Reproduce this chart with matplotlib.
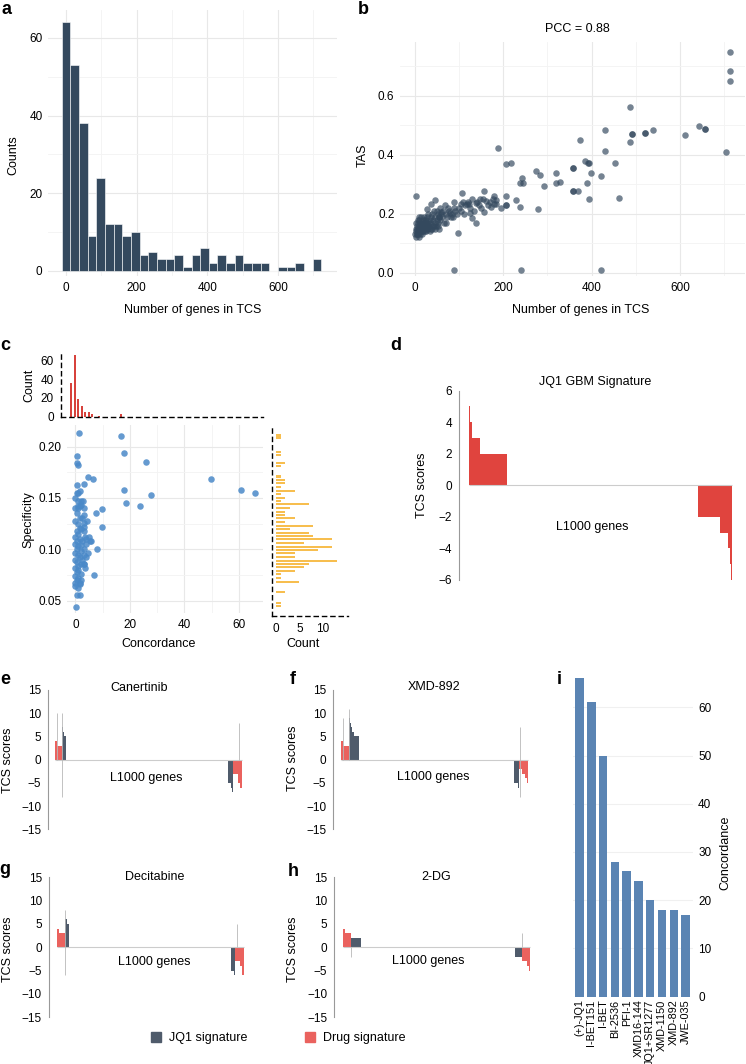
import matplotlib
matplotlib.use('Agg')
import matplotlib.pyplot as plt
from matplotlib.patches import Patch
from matplotlib.ticker import MultipleLocator, FormatStrFormatter
import numpy as np

plt.rcParams['font.family'] = ['Liberation Sans', 'DejaVu Sans']
plt.rcParams['font.size'] = 8.5

# ---------------- data ----------------
# a: number of genes in TCS, histogram
tcs_bin_centers = [0, 24.5, 49, 73.5, 98, 122.5, 147, 171.5, 196, 220.5, 245, 269.5, 294, 318.5, 343,
                   367.5, 392, 416.5, 441, 465.5, 490, 514.5, 539, 563.5, 588, 612.5, 637, 661.5, 686, 710.5]
tcs_counts = [64, 53, 38, 9, 24, 12, 12, 9, 10, 4, 5, 3, 3, 4, 1, 4, 6, 2, 4, 2, 4, 2, 2, 2, 0, 1, 1, 2, 0, 3]

# b: TAS vs number of genes in TCS
tas_points = [
    (712, 0.748), (712, 0.683), (712, 0.649), (703, 0.411), (657, 0.487), (657, 0.487), (642, 0.499),
    (611, 0.466), (538, 0.485), (520, 0.475), (520, 0.475), (492, 0.470), (492, 0.470), (488, 0.564),
    (486, 0.444), (461, 0.252), (452, 0.374), (431, 0.485), (431, 0.414), (421, 0.328), (421, 0.011),
    (398, 0.340), (394, 0.374), (394, 0.250), (390, 0.303), (385, 0.380), (392, 0.371), (373, 0.451),
    (370, 0.278), (359, 0.354), (359, 0.354), (359, 0.278), (359, 0.278), (329, 0.309), (319, 0.337),
    (319, 0.303), (293, 0.294), (284, 0.332), (275, 0.346), (279, 0.216), (246, 0.306), (242, 0.320),
    (239, 0.306), (239, 0.224), (240, 0.009), (230, 0.247), (217, 0.374), (207, 0.368), (207, 0.260),
    (207, 0.230), (207, 0.230), (196, 0.221), (189, 0.425), (180, 0.260), (183, 0.247), (185, 0.233),
    (180, 0.233), (173, 0.222), (162, 0.245), (158, 0.279), (158, 0.207), (147, 0.250), (138, 0.238),
    (138, 0.168), (130, 0.185), (126, 0.202), (124, 0.235), (118, 0.235), (108, 0.272), (104, 0.235),
    (98, 0.136), (90, 0.241), (90, 0.011), (87, 0.190), (80, 0.202), (72, 0.170), (68, 0.230),
    (60, 0.207), (56, 0.190), (45, 0.247), (38, 0.235), (29, 0.218), (4, 0.260),
    (2, 0.13), (3, 0.14), (4, 0.12), (5, 0.15), (5, 0.13), (6, 0.16), (7, 0.14), (8, 0.13), (8, 0.17),
    (9, 0.15), (10, 0.14), (10, 0.18), (11, 0.16), (12, 0.13), (12, 0.15), (13, 0.17), (14, 0.14),
    (15, 0.16), (15, 0.19), (16, 0.15), (17, 0.14), (18, 0.17), (19, 0.16), (20, 0.15), (20, 0.18),
    (21, 0.19), (22, 0.16), (23, 0.14), (24, 0.17), (25, 0.15), (26, 0.18), (27, 0.16), (28, 0.19),
    (29, 0.17), (30, 0.15), (31, 0.20), (32, 0.17), (33, 0.16), (35, 0.18), (36, 0.15), (37, 0.19),
    (38, 0.17), (40, 0.20), (41, 0.16), (42, 0.18), (43, 0.21), (45, 0.17), (46, 0.19), (48, 0.16),
    (50, 0.18), (50, 0.21), (52, 0.20), (54, 0.17), (55, 0.19), (57, 0.22), (58, 0.18), (60, 0.20),
    (62, 0.19), (65, 0.21), (66, 0.17), (70, 0.20), (74, 0.19), (76, 0.22), (78, 0.21), (82, 0.19),
    (85, 0.20), (88, 0.22), (92, 0.21), (95, 0.20), (100, 0.22), (105, 0.21), (110, 0.24), (112, 0.20),
    (115, 0.23), (120, 0.24), (125, 0.22), (130, 0.25), (135, 0.21), (140, 0.24), (145, 0.23),
    (150, 0.22), (155, 0.25), (165, 0.23), (170, 0.24), (178, 0.25),
    (3, 0.15), (4, 0.17), (6, 0.13), (7, 0.18), (9, 0.12), (11, 0.19), (13, 0.15), (14, 0.16),
    (16, 0.13), (18, 0.15), (19, 0.14), (21, 0.17), (23, 0.18), (26, 0.14), (28, 0.16), (34, 0.14),
    (39, 0.15), (44, 0.16), (47, 0.15), (53, 0.16), (56, 0.15),
]

# c: concordance vs specificity with marginal histograms
conc_spec_points = [
    (1.2, 0.213), (16.8, 0.210), (17.8, 0.194), (25.7, 0.185), (49.7, 0.168), (60.6, 0.158),
    (65.7, 0.155), (17.8, 0.158), (27.7, 0.153), (18.4, 0.145), (23.7, 0.142), (4.5, 0.170),
    (6.6, 0.168), (3.1, 0.164), (0.6, 0.191), (0.6, 0.184), (0.8, 0.182), (0.6, 0.163), (1.5, 0.157),
    (0.6, 0.155), (2.0, 0.147), (2.8, 0.147), (0.8, 0.142), (1.5, 0.142), (7.4, 0.135), (9.8, 0.139),
    (3.1, 0.133), (4.3, 0.128), (9.8, 0.122), (3.1, 0.122), (5.8, 0.108), (7.8, 0.100), (6.7, 0.075),
    (3.1, 0.086), (0.0, 0.067), (1.8, 0.067), (0.6, 0.055), (1.8, 0.055), (0.3, 0.044),
    (0, 0.14), (1, 0.14), (0.5, 0.135), (1.5, 0.13), (0, 0.128), (1, 0.125), (2, 0.12), (0.5, 0.118),
    (1, 0.115), (0, 0.112), (1.5, 0.11), (2.5, 0.108), (0, 0.105), (1, 0.103), (0.5, 0.1), (2, 0.098),
    (0, 0.096), (1, 0.094), (1.5, 0.092), (0, 0.09), (0.5, 0.088), (2, 0.086), (1, 0.084), (0, 0.082),
    (1, 0.08), (0.5, 0.078), (2, 0.076), (0, 0.074), (1, 0.072), (0.5, 0.07), (1.5, 0.066), (0, 0.064),
    (3, 0.118), (3.5, 0.112), (4, 0.105), (3, 0.1), (4.5, 0.096), (2.5, 0.09), (3, 0.086), (3.5, 0.082),
    (2.5, 0.13), (3, 0.126), (4, 0.11), (5, 0.112), (2, 0.143), (3, 0.14), (0, 0.15), (1, 0.147),
    (1.5, 0.121), (0.5, 0.108), (2, 0.104), (1, 0.062), (2, 0.07), (3, 0.094), (5.5, 0.108), (4, 0.092),
    (1, 0.155),
]
conc_hist_x = [-1.6, -0.3, 1.0, 2.3, 3.6, 4.9, 6.2, 8.8, 16.6]
conc_hist_n = [36, 66, 19, 11, 5, 5, 3, 1, 3]
spec_hist_y = [0.2114, 0.2088, 0.1945, 0.1919, 0.1844, 0.1815, 0.1708, 0.1675, 0.1643, 0.1604,
               0.1571, 0.1539, 0.1503, 0.1471, 0.1439, 0.1405, 0.1366, 0.1334, 0.1302, 0.1269,
               0.1230, 0.1195, 0.1162, 0.1130, 0.1097, 0.1058, 0.1025, 0.0993, 0.0961, 0.0922,
               0.0889, 0.0857, 0.0825, 0.0789, 0.0756, 0.0717, 0.0684, 0.0581, 0.0480, 0.0447]
spec_hist_n = [1, 1, 1, 1, 2, 1, 1, 2, 2, 1, 4, 1, 2, 1, 7, 3, 2, 2, 4, 2,
               8, 3, 7, 8, 12, 6, 12, 9, 4, 4, 13, 7, 6, 4, 1, 1, 5, 2, 1, 1]

# d: JQ1 GBM signature, runs of (score, number of genes)
n_genes = 978
gbm_scores = [5, 4, 3, 2, 0, -2, -3, -4, -5, -6]
gbm_counts = [4, 6, 31, 102, 709, 83, 29, 7, 5, 2]

# e-h: runs of (score, genes); up runs start at gene 0, down runs end at the last gene
can_drug_up = [(4, 9), (3, 30)]
can_jq1_up = [(7, 5), (6, 4), (5, 10)]
can_jq1_dn = [(-5, 18), (-6, 3), (-7, 3), (-8, 2)]
can_drug_dn = [(-3, 25), (-5, 12), (-6, 10)]
can_spikes = [(9, 0, 10), (38, -8, 10), (963, 0, 8)]

xmd_drug_up = [(4, 10), (3, 35)]
xmd_jq1_up = [(9, 4), (8, 4), (7, 4), (6, 14), (5, 23)]
xmd_jq1_dn = [(-5, 20), (-6, 5), (-7, 5)]
xmd_drug_dn = [(-2, 15), (-3, 12), (-4, 10), (-5, 6)]
xmd_spikes = [(14, 0, 9), (45, 0, 11), (940, -8, 7)]

dec_drug_up = [(4, 9), (3, 31)]
dec_jq1_up = [(6, 9), (5, 12)]
dec_jq1_dn = [(-5, 15), (-6, 4), (-7, 4)]
dec_drug_dn = [(-3, 25), (-4, 12), (-6, 10)]
dec_spikes = [(40, -6, 8), (938, 0, 5)]

dg_drug_up = [(4, 9), (3, 30)]
dg_jq1_up = [(2, 52)]
dg_jq1_dn = [(-2, 38)]
dg_drug_dn = [(-3, 25), (-4, 10), (-5, 5), (-6, 3)]
dg_spikes = [(39, -2, 0), (933, 0, 3)]

# i: top drugs by concordance
drug_names = ['(+)-JQ1', 'I-BET151', 'I-BET', 'BI-2536', 'PFI-1', 'XMD16-144',
              'JQ1+SR1277', 'XMD-1150', 'XMD-892', 'JWE-035']
drug_conc = [66, 61, 50, 28, 26, 24, 20, 18, 18, 17]

NAVY = '#34495e'
JQ1_COL = '#4f5b6b'
DRUG_COL = '#ea625e'

W, H = 746, 1064
fig = plt.figure(figsize=(W / 100, H / 100), dpi=100)


def add_ax(l, t, r, b):
    return fig.add_axes([l / W, 1 - b / H, (r - l) / W, (b - t) / H])


def ftext(x, y, s, **kw):
    kw.setdefault('ha', 'center')
    kw.setdefault('va', 'center')
    fig.text(x / W, 1 - y / H, s, **kw)


def gg_minimal(ax):
    for s in ax.spines.values():
        s.set_visible(False)
    ax.tick_params(which='both', length=0, pad=4)
    ax.grid(True, which='major', color='#e8e8e8', lw=0.8)
    ax.grid(True, which='minor', color='#f3f3f3', lw=0.6)
    ax.set_axisbelow(True)


# ---- a ----
ax = add_ax(48, 10, 337, 276)
ax.bar(tcs_bin_centers, tcs_counts, width=24.5, color=NAVY, edgecolor='white', lw=0.4)
ax.set_xlim(-51, 767)
ax.set_ylim(-1.3, 67.2)
ax.xaxis.set_major_locator(MultipleLocator(200))
ax.xaxis.set_minor_locator(MultipleLocator(100))
ax.yaxis.set_major_locator(MultipleLocator(20))
ax.yaxis.set_minor_locator(MultipleLocator(10))
gg_minimal(ax)
ftext(13, 155, 'Counts', rotation=90, fontsize=9)
ftext(193, 310, 'Number of genes in TCS', fontsize=9)

# ---- b ----
ax = add_ax(400, 42, 745, 276)
bx, by = zip(*tas_points)
ax.scatter(bx, by, s=22, color=NAVY, alpha=0.68, lw=0)
ax.set_xlim(-33, 747)
ax.set_ylim(-0.011, 0.783)
ax.xaxis.set_major_locator(MultipleLocator(200))
ax.xaxis.set_minor_locator(MultipleLocator(100))
ax.yaxis.set_major_locator(MultipleLocator(0.2))
ax.yaxis.set_minor_locator(MultipleLocator(0.1))
ax.yaxis.set_major_formatter(FormatStrFormatter('%.1f'))
gg_minimal(ax)
ftext(577, 29, 'PCC = 0.88', fontsize=9)
ftext(363, 155, 'TAS', rotation=90, fontsize=9)
ftext(581, 310, 'Number of genes in TCS', fontsize=9)

# ---- c ----
ax = add_ax(67, 425, 263, 613)
cx, cy = zip(*conc_spec_points)
ax.scatter(cx, cy, s=22, color='#4a89c8', alpha=0.85, lw=0)
ax.set_xlim(-3.1, 68.8)
ax.set_ylim(0.0379, 0.2211)
ax.xaxis.set_major_locator(MultipleLocator(20))
ax.xaxis.set_minor_locator(MultipleLocator(10))
ax.yaxis.set_major_locator(MultipleLocator(0.05))
ax.yaxis.set_minor_locator(MultipleLocator(0.025))
ax.yaxis.set_major_formatter(FormatStrFormatter('%.2f'))
gg_minimal(ax)
ftext(28, 520, 'Specificity', rotation=90, fontsize=9)
ftext(159, 644, 'Concordance', fontsize=9)

ax = add_ax(61, 351.7, 263, 416.7)
ax.bar(conc_hist_x, conc_hist_n, width=0.75, color='#d7423c', lw=0)
ax.set_xlim(-5.3, 68.8)
ax.set_ylim(0, 69)
ax.set_xticks([])
ax.set_yticks([0, 20, 40, 60])
for s in ['top', 'right']:
    ax.spines[s].set_visible(False)
for s in ['left', 'bottom']:
    ax.spines[s].set_linestyle((0, (3, 3)))
    ax.spines[s].set_linewidth(1.0)
ax.tick_params(length=0, pad=5)
ftext(29, 385, 'Count', rotation=90, fontsize=9)

ax = add_ax(271.7, 425, 348, 616)
ax.barh(spec_hist_y, spec_hist_n, height=0.0022, color='#f7be4f', lw=0)
ax.set_xlim(-0.92, 15.4)
ax.set_ylim(0.035, 0.2211)
ax.set_yticks([])
ax.set_xticks([0, 5, 10])
for s in ['top', 'right']:
    ax.spines[s].set_visible(False)
for s in ['left', 'bottom']:
    ax.spines[s].set_linestyle((0, (3, 3)))
    ax.spines[s].set_linewidth(1.0)
ax.tick_params(length=0, pad=5)
ftext(302.7, 644, 'Count', fontsize=9)

# ---- d ----
ax = add_ax(459, 390.7, 740, 580)
lefts = np.concatenate([[0], np.cumsum(gbm_counts)[:-1]])
ax.hlines(0, 0, sum(gbm_counts), color='#cccccc', lw=0.8)
ax.bar(lefts, gbm_scores, width=gbm_counts, align='edge', color='#e0443e', lw=0)
ax.set_xlim(-37, 1008)
ax.set_ylim(-6, 6)
ax.set_yticks([-6, -4, -2, 0, 2, 4, 6])
ax.set_xticks([])
for s in ['top', 'right', 'bottom']:
    ax.spines[s].set_visible(False)
ax.spines['left'].set_color('#999999')
ax.spines['left'].set_linewidth(0.8)
ax.tick_params(length=0, pad=5)
ftext(594.7, 381.7, 'JQ1 GBM Signature', fontsize=9)
ftext(592, 527, 'L1000 genes', fontsize=9)
ftext(422, 485.7, 'TCS scores', rotation=90, fontsize=9)


def draw_runs(ax, runs, start, color):
    scores = [r[0] for r in runs]
    widths = [r[1] for r in runs]
    lefts = start + np.concatenate([[0], np.cumsum(widths)[:-1]])
    ax.bar(lefts, scores, width=widths, align='edge', color=color, lw=0)
    return start + sum(widths)


def sig_panel(box, xlo, drug_up, jq1_up, jq1_dn, drug_dn, spikes, title, title_xy, genes_xy, lab_xy):
    ax = add_ax(*box)
    ax.hlines(0, 0, n_genes, color='#cccccc', lw=0.8)
    ax.vlines([s[0] for s in spikes], [s[1] for s in spikes], [s[2] for s in spikes],
              color='#b8b8b8', lw=0.6)
    pos = draw_runs(ax, drug_up, 0, DRUG_COL)
    draw_runs(ax, jq1_up, pos, JQ1_COL)
    dn_start = n_genes - sum(r[1] for r in jq1_dn) - sum(r[1] for r in drug_dn)
    pos = draw_runs(ax, jq1_dn, dn_start, JQ1_COL)
    draw_runs(ax, drug_dn, pos, DRUG_COL)
    ax.set_xlim(xlo, xlo + 1055)
    ax.set_ylim(-15, 15)
    ax.set_yticks([-15, -10, -5, 0, 5, 10, 15])
    ax.set_xticks([])
    for s in ['top', 'right', 'bottom']:
        ax.spines[s].set_visible(False)
    ax.spines['left'].set_color('#999999')
    ax.spines['left'].set_linewidth(0.8)
    ax.tick_params(length=0, pad=5)
    ftext(*title_xy, title, fontsize=9)
    ftext(*genes_xy, 'L1000 genes', fontsize=9)
    ftext(*lab_xy, 'TCS scores', rotation=90, fontsize=9)


sig_panel((48.3, 690, 250, 829.3), -35, can_drug_up, can_jq1_up, can_jq1_dn, can_drug_dn, can_spikes,
          'Canertinib', (139.3, 688), (146.7, 777.7), (8, 760))
sig_panel((333.3, 690, 535, 829.3), -38.7, xmd_drug_up, xmd_jq1_up, xmd_jq1_dn, xmd_drug_dn, xmd_spikes,
          'XMD-892', (434, 687.3), (433, 776.7), (293, 758))
sig_panel((49, 877.3, 250.7, 1017.3), -43.4, dec_drug_up, dec_jq1_up, dec_jq1_dn, dec_drug_dn, dec_spikes,
          'Decitabine', (155, 876.7), (154.3, 961.7), (8, 949))
sig_panel((334.3, 877.3, 536, 1017.3), -47, dg_drug_up, dg_jq1_up, dg_jq1_dn, dg_drug_dn, dg_spikes,
          '2-DG', (436.3, 876.7), (428, 961), (293, 949))

fig.legend(handles=[Patch(color=JQ1_COL), Patch(color=DRUG_COL)],
           labels=['JQ1 signature', 'Drug signature'], loc='center',
           bbox_to_anchor=(278 / W, 1 - 1038 / H), ncol=2, frameon=False, fontsize=9,
           handlelength=0.85, handleheight=0.85, handletextpad=0.6, columnspacing=4.6)

# ---- i ----
ax = add_ax(572.6, 668.7, 692.6, 996.7)
ax.bar(range(len(drug_conc)), drug_conc, width=0.72, color='#5a84b3', lw=0)
ax.set_xlim(-0.6, 9.6)
ax.set_ylim(0, 68)
ax.set_xticks(range(len(drug_names)))
ax.set_xticklabels(drug_names, rotation=90, fontsize=7.8)
ax.yaxis.tick_right()
ax.set_yticks([0, 10, 20, 30, 40, 50, 60])
for s in ax.spines.values():
    s.set_visible(False)
ax.grid(True, axis='y', color='#f0f0f0', lw=0.8)
ax.set_axisbelow(True)
ax.tick_params(length=0, pad=4)
ax.tick_params(axis='x', pad=2)
ftext(725, 853, 'Concordance', rotation=90, fontsize=9)

# panel letters
for lab, x, y in [('a', 7, 10), ('b', 363, 10), ('c', 5, 346), ('d', 396, 346), ('e', 5, 680),
                  ('f', 293, 680), ('g', 5, 870), ('h', 293, 872), ('i', 559, 679)]:
    ftext(x, y, lab, fontsize=13, fontweight='bold')

fig.savefig('out.png', dpi=100)
